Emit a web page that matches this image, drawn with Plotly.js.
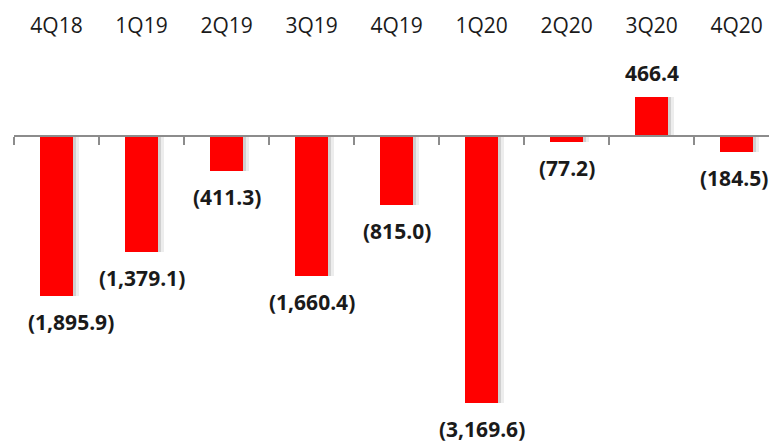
<!DOCTYPE html>
<html>
<head>
<meta charset="utf-8">
<script src="https://cdn.plot.ly/plotly-3.0.1.min.js"></script>
<style>html,body{margin:0;padding:0;background:#fff;}#chart{width:769px;height:442px;}</style>
</head>
<body>
<div id="chart"></div>
<script>
const quarters = ["4Q18","1Q19","2Q19","3Q19","4Q19","1Q20","2Q20","3Q20","4Q20"];
const values = [-1895.9, -1379.1, -411.3, -1660.4, -815.0, -3169.6, -77.2, 466.4, -184.5];

function fmt(v){
  const s = Math.abs(v).toLocaleString('en-US',{minimumFractionDigits:1, maximumFractionDigits:1});
  return v < 0 ? '(' + s + ')' : s;
}

const xr = [-0.5, 8.38];
const barW = 0.39;

const shadowOuter = {
  type: 'bar', x: quarters, y: values, xaxis: 'x', yaxis: 'y',
  width: barW, offset: -barW/2 + 0.065,
  marker: {color: 'rgba(0,0,0,0.07)', line: {width: 0}},
  hoverinfo: 'skip', showlegend: false
};
const shadow = {
  type: 'bar', x: quarters, y: values, xaxis: 'x', yaxis: 'y',
  width: barW, offset: -barW/2 + 0.035,
  marker: {color: 'rgba(0,0,0,0.12)', line: {width: 0}},
  hoverinfo: 'skip', showlegend: false
};
const bars = {
  type: 'bar', x: quarters, y: values, xaxis: 'x2', yaxis: 'y',
  width: barW,
  marker: {color: '#ff0000', line: {width: 0}},
  showlegend: false
};

const last = values.length - 1;
const annotations = values.map((v, i) => ({
  x: quarters[i], y: v, xref: 'x2', yref: 'y',
  text: fmt(v), showarrow: false,
  yanchor: 'middle', xanchor: 'center',
  yshift: v < 0 ? -26 : 24,
  xshift: i === 0 ? 14 : (i === last ? -3 : 0),
  font: {family: 'Open Sans', size: 21, color: '#1a1a1a', weight: 'bold'}
}));

const layout = {
  width: 769, height: 442,
  margin: {l: 14, r: 0, t: 40, b: 0, pad: 0},
  paper_bgcolor: '#fff', plot_bgcolor: '#fff',
  barmode: 'overlay',
  bargap: 0,
  showlegend: false,
  xaxis: {
    type: 'category', categoryarray: quarters, range: xr,
    anchor: 'free', position: 0.7612,
    showline: true, linecolor: '#8c8c8c', linewidth: 2,
    ticks: 'outside', ticklen: 8, tickwidth: 2, tickcolor: '#8c8c8c',
    tickson: 'boundaries',
    showticklabels: false, showgrid: false, zeroline: false, fixedrange: true
  },
  xaxis2: {
    type: 'category', categoryarray: quarters, range: xr,
    overlaying: 'x', side: 'top', anchor: 'free', position: 1,
    showline: false, ticks: '', showgrid: false, zeroline: false,
    tickfont: {family: 'Open Sans', size: 21, color: '#1a1a1a'},
    ticklabelstandoff: 3
  },
  yaxis: {
    range: [-3626, 1137], showgrid: false, zeroline: false,
    showticklabels: false, ticks: '', showline: false, fixedrange: true
  },
  annotations: annotations
};

Plotly.newPlot('chart', [shadowOuter, shadow, bars], layout, {displayModeBar: false, staticPlot: true});
</script>
</body>
</html>
